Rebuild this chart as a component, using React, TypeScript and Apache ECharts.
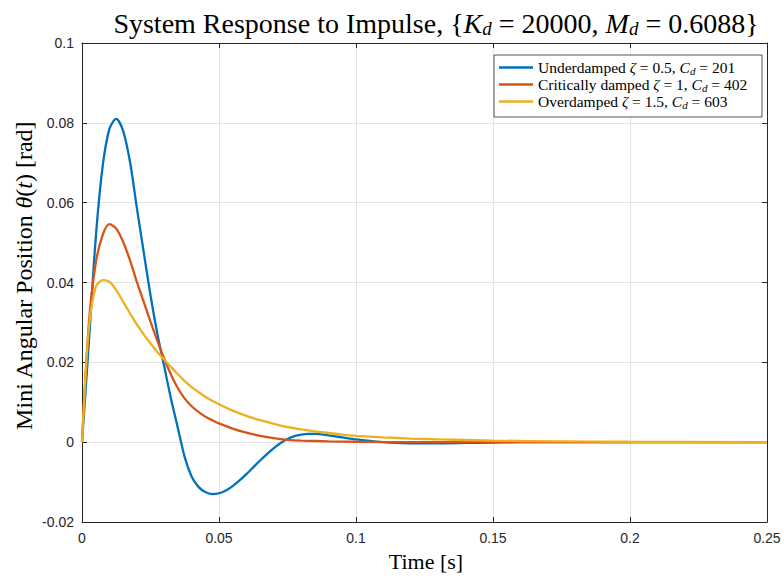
import React, { useEffect, useRef } from "react";
import * as echarts from "echarts";

// Time samples [s] and responses [rad]
const underT = [0, 0.0025, 0.005, 0.0075, 0.01, 0.0125, 0.015, 0.0175, 0.02, 0.0225, 0.025, 0.0275, 0.03, 0.0325, 0.035, 0.0375, 0.04, 0.0425, 0.045, 0.0475, 0.05, 0.0525, 0.055, 0.0575, 0.06, 0.0625, 0.065, 0.0675, 0.07, 0.0725, 0.075, 0.0775, 0.08, 0.0825, 0.085, 0.09, 0.095, 0.1, 0.105, 0.11, 0.115, 0.12, 0.13, 0.14, 0.15, 0.16, 0.2, 0.25];
const underV = [0, 0.025, 0.051, 0.0689, 0.0785, 0.081, 0.078, 0.0703, 0.0588, 0.0477, 0.0368, 0.0272, 0.019, 0.0108, 0.0035, -0.0038, -0.0086, -0.0112, -0.0125, -0.013, -0.0128, -0.0121, -0.011, -0.0096, -0.008, -0.0063, -0.0046, -0.003, -0.0015, -0.0002, 0.0008, 0.0015, 0.0019, 0.0021, 0.0021, 0.0017, 0.0012, 0.0007, 0.0003, 0, -0.0002, -0.0003, -0.0003, -0.0002, -0.0001, 0, 0, 0];

const critT = [0, 0.0025, 0.005, 0.0075, 0.01, 0.0125, 0.015, 0.0175, 0.02, 0.0225, 0.025, 0.0275, 0.03, 0.0325, 0.035, 0.0375, 0.04, 0.0425, 0.045, 0.0475, 0.05, 0.055, 0.06, 0.065, 0.07, 0.075, 0.08, 0.09, 0.1, 0.12, 0.15, 0.2, 0.25];
const critV = [0, 0.0298, 0.0448, 0.0518, 0.0546, 0.0535, 0.0502, 0.0456, 0.0402, 0.0352, 0.0302, 0.0254, 0.0209, 0.0169, 0.0135, 0.0109, 0.009, 0.0076, 0.0064, 0.0055, 0.0047, 0.0034, 0.0024, 0.0016, 0.001, 0.0006, 0.0004, 0.0002, 0.0001, 0, 0, 0, 0];

const overT = [0, 0.0025, 0.005, 0.0075, 0.01, 0.0125, 0.015, 0.0175, 0.02, 0.0225, 0.025, 0.0275, 0.03, 0.0325, 0.035, 0.0375, 0.04, 0.045, 0.05, 0.055, 0.06, 0.065, 0.07, 0.075, 0.08, 0.085, 0.09, 0.095, 0.1, 0.11, 0.12, 0.13, 0.15, 0.175, 0.2, 0.25];
const overV = [0, 0.0285, 0.0388, 0.0406, 0.0402, 0.0381, 0.0352, 0.0323, 0.0295, 0.027, 0.0247, 0.0226, 0.0207, 0.0188, 0.017, 0.0153, 0.0138, 0.0114, 0.0095, 0.0079, 0.0066, 0.0055, 0.0046, 0.0038, 0.0032, 0.0027, 0.0023, 0.0019, 0.0016, 0.0012, 0.0009, 0.0007, 0.0004, 0.0002, 0.0001, 0.00003];

const seriesNames = ["Underdamped", "Critically damped", "Overdamped"];
const legendRich = [
  "{n|Underdamped }{i|ζ}{n| = 0.5, }{i|C}{s|d}{n| = 201}",
  "{n|Critically damped }{i|ζ}{n| = 1, }{i|C}{s|d}{n| = 402}",
  "{n|Overdamped }{i|ζ}{n| = 1.5, }{i|C}{s|d}{n| = 603}",
];
const colors = ["#0072BD", "#D95319", "#EDB120"];

const xMin = 0, xMax = 0.25, xStep = 0.05;
const yMin = -0.02, yMax = 0.1, yStep = 0.02;

const SERIF = "'Liberation Serif', 'Times New Roman', serif";
const SANS = "'Liberation Sans', Arial, Helvetica, sans-serif";
const AX = "#262626";

const pairs = (t: number[], v: number[]) => t.map((x, i) => [x, v[i]]);
const fmt = (v: number) => String(parseFloat(v.toFixed(4)));

export default function App() {
  const ref = useRef<HTMLDivElement>(null);
  useEffect(() => {
    if (!ref.current) return;
    const chart = echarts.init(ref.current, undefined, { renderer: "svg" });
    const grid = { left: 82, right: 17, top: 43, bottom: 56 };
    const baseX = {
      type: "value" as const, min: xMin, max: xMax, interval: xStep,
      axisLine: { show: true, onZero: false, lineStyle: { color: AX, width: 1 } },
      axisTick: { show: true, inside: true, length: 5, lineStyle: { color: AX } },
    };
    const baseY = {
      type: "value" as const, min: yMin, max: yMax, interval: yStep,
      axisLine: { show: true, onZero: false, lineStyle: { color: AX, width: 1 } },
      axisTick: { show: true, inside: true, length: 5, lineStyle: { color: AX } },
    };
    const data = [pairs(underT, underV), pairs(critT, critV), pairs(overT, overV)];
    const LF = 15.5;
    const rich = {
      n: { fontFamily: SERIF, fontSize: LF, color: "#000" },
      i: { fontFamily: SERIF, fontSize: LF, fontStyle: "italic", color: "#000" },
      s: { fontFamily: SERIF, fontSize: 11, fontStyle: "italic", color: "#000", padding: [6, 0, 0, 0] },
    };
    const TF = 28;
    chart.setOption({
      animation: false,
      backgroundColor: "#fff",
      grid,
      xAxis: [
        {
          ...baseX, position: "bottom",
          axisLabel: { margin: 9, fontFamily: SANS, fontSize: 14, color: AX, formatter: fmt },
          splitLine: { show: true, lineStyle: { color: "#e3e3e3", width: 1 } },
        },
        { ...baseX, position: "top", axisLabel: { show: false }, splitLine: { show: false } },
      ],
      yAxis: [
        {
          ...baseY, position: "left",
          axisLabel: { margin: 8, fontFamily: SANS, fontSize: 14, color: AX, formatter: fmt },
          splitLine: { show: true, lineStyle: { color: "#e3e3e3", width: 1 } },
        },
        { ...baseY, position: "right", axisLabel: { show: false }, splitLine: { show: false } },
      ],
      legend: {
        data: seriesNames,
        orient: "vertical",
        left: 499,
        top: 59,
        padding: 0,
        itemGap: 0,
        itemWidth: 34,
        itemHeight: 2.5,
        icon: "rect",
        z: 20,
        textStyle: { fontFamily: SERIF, fontSize: LF, lineHeight: 17, color: "#000", rich },
        formatter: (name: string) => legendRich[seriesNames.indexOf(name)],
      },
      graphic: [
        {
          type: "rect", z: 15,
          shape: { x: 494, y: 55, width: 268, height: 62 },
          style: { fill: "#fff", stroke: AX, lineWidth: 0.8 },
        },
        {
          type: "text", x: 436, y: 23, z: 20,
          style: {
            text: "System Response to Impulse, {{i|K}{s|d}{n| = 20000, }{i|M}{s|d}{n| = 0.6088}}",
            align: "center", verticalAlign: "middle",
            fontFamily: SERIF, fontSize: TF, fill: "#000",
            rich: {
              n: { fontFamily: SERIF, fontSize: TF, color: "#000" },
              i: { fontFamily: SERIF, fontSize: TF, fontStyle: "italic", color: "#000" },
              s: { fontFamily: SERIF, fontSize: 19, fontStyle: "italic", color: "#000", padding: [11, 0, 0, 0] },
            },
          },
        },
        {
          type: "text", x: 426, y: 561, z: 20,
          style: { text: "Time [s]", align: "center", verticalAlign: "middle", fontFamily: SERIF, fontSize: 22, fill: "#000" },
        },
        {
          type: "text", x: 24, y: 276, z: 20, rotation: Math.PI / 2,
          style: {
            text: "Mini Angular Position {i|θ}({i|t}) [rad]",
            align: "center", verticalAlign: "middle",
            fontFamily: SERIF, fontSize: 24, fill: "#000",
            rich: {
              i: { fontFamily: SERIF, fontSize: 24, fontStyle: "italic", color: "#000" },
            },
          },
        },
      ],
      series: data.map((d, k) => ({
        name: seriesNames[k],
        type: "line",
        data: d,
        xAxisIndex: 0,
        yAxisIndex: 0,
        showSymbol: false,
        smooth: 0.3,
        color: colors[k],
        lineStyle: { width: 2.3, color: colors[k] },
        z: 2 + k,
      })),
    });
    return () => chart.dispose();
  }, []);
  return (
    <div
      ref={ref}
      style={{ position: "fixed", left: 0, top: 0, width: 784, height: 578, background: "#fff" }}
    />
  );
}
